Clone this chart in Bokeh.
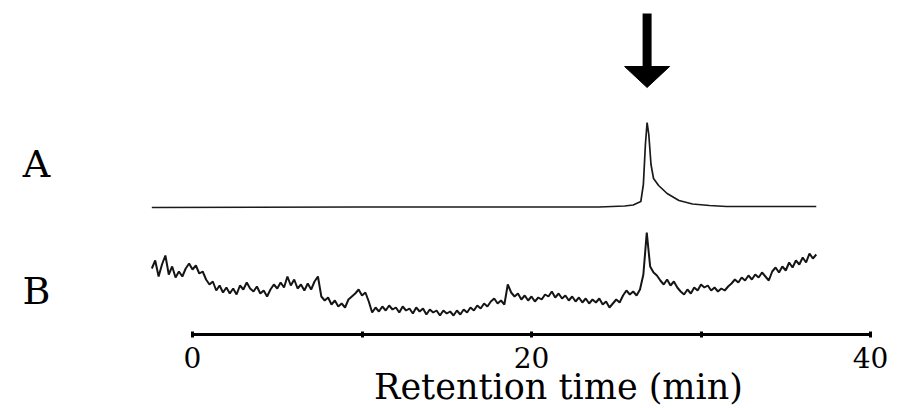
import numpy as np
from bokeh.plotting import figure
from bokeh.models import LinearAxis, FixedTicker, Label, Range1d
from bokeh.embed import file_html
from bokeh.resources import INLINE

# ---------------- data ----------------
# chromatogram A (smooth trace), time in min, signal in arbitrary units
trace_a_time = [-2.4, 10.0, 20.0, 24.0, 25.5, 26.0, 26.45, 26.6, 26.72, 26.82,
                26.92, 27.05, 27.2, 27.5, 28.0, 28.7, 29.5, 30.5, 31.5, 36.8]
trace_a = [127, 127.5, 127.5, 127.5, 128.5, 129.5, 133, 150, 190, 212,
           200, 170, 156, 149, 141, 134, 130.5, 129, 128, 128]

# chromatogram B (noisy trace), sampled every 0.2 min from -2.4 min
trace_b_start = -2.4
trace_b_step = 0.2
trace_b = [66, 74, 58, 70, 79, 60, 68, 57, 63, 58,
           66, 71, 65, 69, 61, 63, 55, 50, 53, 44,
           49, 42, 47, 41, 46, 40, 49, 45, 52, 46,
           43, 48, 41, 44, 38, 45, 50, 46, 52, 47,
           58, 49, 55, 46, 50, 44, 51, 45, 53, 58,
           38, 34, 37, 30, 34, 28, 31, 27, 35, 38,
           41, 45, 39, 42, 33, 22, 27, 23, 28, 24,
           29, 25, 27, 22, 28, 24, 26, 21, 27, 23,
           26, 20, 25, 22, 24, 19, 24, 21, 23, 19,
           24, 20, 25, 22, 27, 24, 29, 26, 31, 28,
           33, 36, 31, 34, 30, 50, 42, 38, 41, 35,
           39, 34, 38, 33, 37, 35, 40, 38, 43, 37,
           41, 36, 39, 34, 38, 33, 37, 32, 36, 31,
           35, 32, 36, 30, 33, 27, 31, 35, 32, 39,
           44, 40, 43, 39, 45, 60, 102, 68, 62, 59,
           54, 50, 55, 49, 53, 47, 43, 40, 45, 41,
           47, 44, 50, 47, 49, 44, 47, 43, 46, 44,
           48, 51, 55, 52, 57, 54, 59, 55, 60, 57,
           62, 58, 54, 63, 67, 62, 68, 64, 72, 67,
           74, 70, 77, 72, 81, 76, 80]

series_labels = ["A", "B"]
major_ticks = [0, 20, 40]
minor_ticks = [10, 30]
tick_labels = {0: "0", 20: "20", 40: "40"}
x_title = "Retention time (min)"

# ---------------- layout ----------------
W, H = 900, 408
AXIS_PX = 334            # screen y of the time axis
PX_ZERO = 192.0          # screen x of t = 0
PX_PER_MIN = 16.95
x0 = -PX_ZERO / PX_PER_MIN
x1 = (W - PX_ZERO) / PX_PER_MIN

trace_b_time = [trace_b_start + trace_b_step * i for i in range(len(trace_b))]

p = figure(width=W, height=H, x_range=Range1d(x0, x1),
           y_range=Range1d(AXIS_PX - H, AXIS_PX),
           min_border=0, x_axis_location=None, y_axis_location=None,
           output_backend="svg", toolbar_location=None)
p.outline_line_color = None
p.grid.visible = False
p.background_fill_color = "white"
p.border_fill_color = "white"

p.line(trace_a_time, trace_a, line_color="#1a1a1a", line_width=1.7)
p.line(trace_b_time, trace_b, line_color="#151515", line_width=2.0)

# arrow marking the peak
peak_t = trace_a_time[int(np.argmax(trace_a))]
head_half = 22.5 / PX_PER_MIN
tip_y, head_base_y, shaft_top_y = 247, 268, 321
p.segment(x0=[peak_t], y0=[head_base_y], x1=[peak_t], y1=[shaft_top_y],
          line_color="black", line_width=9, line_cap="butt")
p.patch([peak_t - head_half, peak_t + head_half, peak_t],
        [head_base_y, head_base_y, tip_y], fill_color="black", line_color="black")

# series labels
for lab, ly in zip(series_labels, [171, 44]):
    p.add_layout(Label(x=(36 - PX_ZERO) / PX_PER_MIN, y=ly, text=lab,
                       text_font="DejaVu Serif", text_font_size="38px",
                       text_align="center", text_baseline="middle", text_color="black"))

# x axis, drawn at signal level 0 inside the frame
ax = LinearAxis(ticker=FixedTicker(ticks=major_ticks, minor_ticks=minor_ticks),
                major_label_overrides=tick_labels, bounds=(0, 40),
                fixed_location=0)
ax.axis_line_width = 3
ax.axis_line_color = "black"
ax.major_tick_line_width = 3
ax.minor_tick_line_width = 3
ax.major_tick_in = 3
ax.major_tick_out = 3
ax.minor_tick_in = 3
ax.minor_tick_out = 3
ax.major_tick_line_color = "black"
ax.minor_tick_line_color = "black"
ax.major_label_text_font = "DejaVu Serif"
ax.major_label_text_font_size = "28px"
ax.major_label_text_color = "black"
ax.major_label_standoff = 9
p.add_layout(ax, "below")

# axis title (placed slightly right of the axis centre, as in the original)
p.add_layout(Label(x=(558 - PX_ZERO) / PX_PER_MIN, y=AXIS_PX - 386, text=x_title,
                   text_font="DejaVu Serif", text_font_size="35px",
                   text_align="center", text_baseline="middle", text_color="black"))

open("out.html", "w").write(file_html(p, INLINE))
